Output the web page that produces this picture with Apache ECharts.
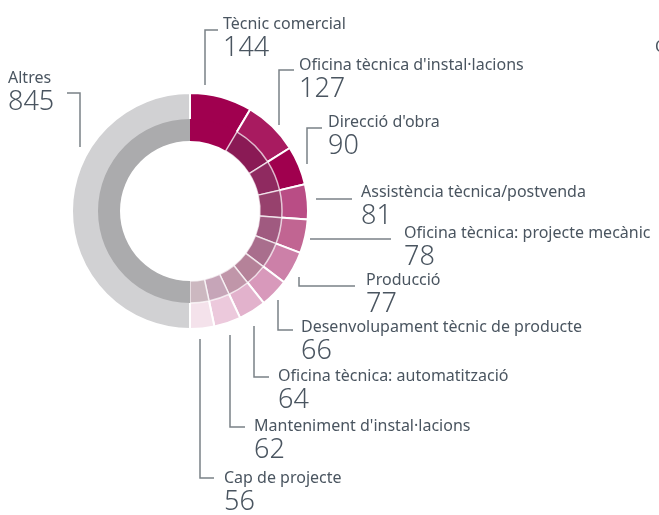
<!DOCTYPE html>
<html>
<head>
<meta charset="utf-8">
<script src="https://cdn.jsdelivr.net/npm/echarts@6/dist/echarts.min.js"></script>
<style>
  html, body { margin: 0; padding: 0; background: #fff; }
  #main { width: 659px; height: 515px; }
</style>
</head>
<body>
<div id="main"></div>
<script>
// dades
var categories = [
  "Tècnic comercial",
  "Oficina tècnica d'instal·lacions",
  "Direcció d'obra",
  "Assistència tècnica/postvenda",
  "Oficina tècnica: projecte mecànic",
  "Producció",
  "Desenvolupament tècnic de producte",
  "Oficina tècnica: automatització",
  "Manteniment d'instal·lacions",
  "Cap de projecte",
  "Altres"
];
var values = [144, 127, 90, 81, 78, 77, 66, 64, 62, 56, 845];

// colors anell exterior / interior
var outerColors = ["#a0004f", "#a81b60", "#a0004e", "#b94d85", "#c16592", "#cc80a8",
  "#d899bb", "#e2b2cc", "#ecc9dc", "#f4e2eb", "#d1d1d3"];
var innerColors = ["#a0004f", "#8a1a55", "#8f2a60", "#97416d", "#a05a80", "#a96e8d",
  "#b58299", "#c096a9", "#c6a5b8", "#ccb8c0", "#ababad"];

// posicio de les etiquetes [x, y] i linies guia
var labelPos = [
  [223, 14], [299, 55], [328, 112], [361, 182], [404, 223], [366, 270],
  [301, 317], [278, 366], [254, 416], [224, 468], [8, 68]
];
var guideLines = [
  [[205, 85], [205, 30], [218, 30]],
  [[279, 125], [279, 70], [294, 70]],
  [[307, 164], [307, 128], [322, 128]],
  [[316, 199], [334, 199], [352, 199]],
  [[310, 239], [350, 239], [391, 239]],
  [[299, 277], [299, 286], [355, 286]],
  [[278, 300], [278, 330], [293, 330]],
  [[254, 326], [254, 377], [269, 377]],
  [[230, 335], [230, 427], [245, 427]],
  [[200, 339], [200, 478], [214, 478]],
  [[80, 147], [80, 93], [67, 93]]
];

var textColor = "#4a5560";
var chart = echarts.init(document.getElementById("main"), null, { renderer: "canvas" });

var outerData = categories.map(function (c, i) {
  return { name: c, value: values[i], itemStyle: { color: outerColors[i] } };
});
var innerData = categories.map(function (c, i) {
  var item = { name: c, value: values[i], itemStyle: { color: innerColors[i] } };
  // el primer i "Altres" sense vora clara
  if (i === 0 || i === categories.length - 1) item.itemStyle.borderWidth = 0;
  return item;
});

var option = {
  animation: false,
  backgroundColor: "#fff",
  graphic: [
    { type: "text", left: 655, top: 39, style: { text: "O", fill: textColor, font: "16px 'Noto Sans'" } }
  ],
  series: [
    {
      type: "pie",
      center: [190, 211],
      radius: [90, 118],
      startAngle: 90,
      clockwise: true,
      avoidLabelOverlap: false,
      silent: true,
      z: 1,
      itemStyle: { borderColor: "#fff", borderWidth: 2 },
      data: outerData,
      label: {
        show: true,
        position: "outside",
        formatter: function (p) {
          return "{n|" + p.name + "}\n{v|" + p.value + "}";
        },
        rich: {
          n: { fontFamily: "Noto Sans", fontSize: 16, color: textColor, lineHeight: 21 },
          v: { fontFamily: "Noto Sans", fontWeight: 300, fontSize: 27, color: textColor, lineHeight: 26 }
        }
      },
      labelLine: {
        show: true,
        smooth: false,
        lineStyle: { color: "#7a8187", width: 1.5 }
      },
      labelLayout: function (params) {
        var i = params.dataIndex;
        return {
          x: labelPos[i][0],
          y: labelPos[i][1],
          align: "left",
          verticalAlign: "top",
          labelLinePoints: guideLines[i]
        };
      }
    },
    {
      type: "pie",
      center: [190, 211],
      radius: [70, 92],
      startAngle: 90,
      clockwise: true,
      silent: true,
      z: 3,
      itemStyle: { borderColor: "rgba(255,255,255,0.7)", borderWidth: 1.5 },
      label: { show: false },
      labelLine: { show: false },
      data: innerData
    }
  ]
};

chart.setOption(option);
</script>
</body>
</html>
